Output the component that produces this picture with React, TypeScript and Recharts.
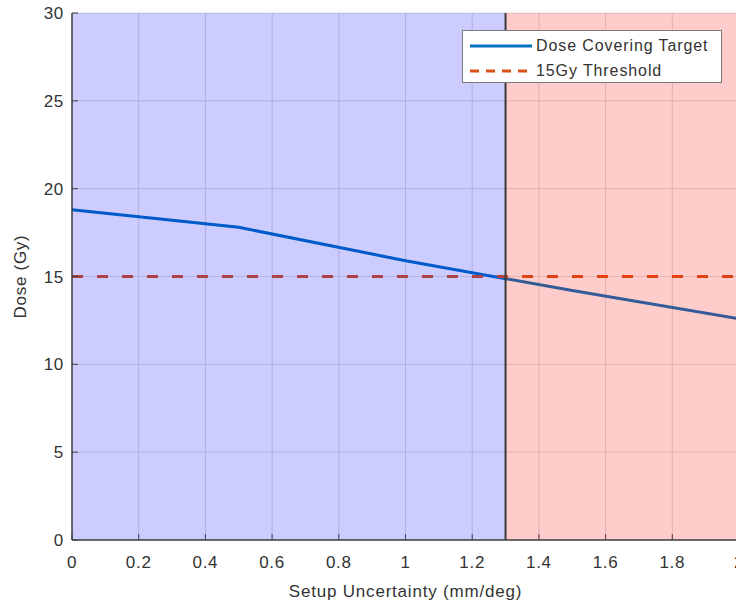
import {
  LineChart,
  Line,
  XAxis,
  YAxis,
  CartesianGrid,
  ReferenceArea,
  ReferenceLine,
} from 'recharts'

// values
const uncertainty = [0, 0.5, 1.0, 1.5, 2.0]
const doseCovering = [18.8, 17.8, 15.9, 14.2, 12.6]
const threshold = [15, 15, 15, 15, 15]
const crossing = 1.3

const xTicks = [0, 0.2, 0.4, 0.6, 0.8, 1, 1.2, 1.4, 1.6, 1.8, 2]
const yTicks = [0, 5, 10, 15, 20, 25, 30]

const legendItems = [
  { name: 'Dose Covering Target', color: '#0072BD', dash: undefined },
  { name: '15Gy Threshold', color: '#D95319', dash: '9 7' },
]

const FONT = '"Liberation Sans", Arial, Helvetica, sans-serif'
const TEXT = '#333333'
const AXIS = '#404040'

const data = uncertainty.map((x, i) => ({
  x,
  dose: doseCovering[i],
  threshold: threshold[i],
}))

function BottomTick({ x, y, payload }: any) {
  return (
    <g>
      <line x1={x} x2={x} y1={y} y2={y - 6} stroke={AXIS} strokeWidth={1} />
      <text
        x={x}
        y={y + 28}
        textAnchor="middle"
        fontFamily={FONT}
        fontSize={17}
        letterSpacing={0.7}
        fill={TEXT}
      >
        {String(payload.value)}
      </text>
    </g>
  )
}

function TopTick({ x, y }: any) {
  return <line x1={x} x2={x} y1={y} y2={y + 6} stroke={AXIS} strokeWidth={1} />
}

function LeftTick({ x, y, payload }: any) {
  return (
    <g>
      <line x1={x} x2={x + 6} y1={y} y2={y} stroke={AXIS} strokeWidth={1} />
      <text
        x={x - 8}
        y={y + 6}
        textAnchor="end"
        fontFamily={FONT}
        fontSize={17}
        letterSpacing={0.7}
        fill={TEXT}
      >
        {payload.value}
      </text>
    </g>
  )
}

function LegendBox() {
  return (
    <div
      style={{
        position: 'absolute',
        left: 462,
        top: 30,
        width: 260,
        height: 53,
        boxSizing: 'border-box',
        background: '#fff',
        border: '1px solid #7a7a7a',
        fontFamily: FONT,
        fontSize: 16,
        letterSpacing: 0.9,
        color: TEXT,
        padding: '3px 0 0 6px',
      }}
    >
      {legendItems.map((item) => (
        <div
          key={item.name}
          style={{ display: 'flex', alignItems: 'center', height: 23, marginBottom: 2 }}
        >
          <svg width={64} height={10} style={{ marginRight: 3 }}>
            <line
              x1={1}
              x2={63}
              y1={5}
              y2={5}
              stroke={item.color}
              strokeWidth={3}
              strokeDasharray={item.dash}
            />
          </svg>
          <span>{item.name}</span>
        </div>
      ))}
    </div>
  )
}

export default function App() {
  return (
    <div
      style={{
        position: 'fixed',
        left: 0,
        top: 0,
        width: 736,
        height: 606,
        overflow: 'hidden',
        background: '#fff',
      }}
    >
      <LineChart
        width={760}
        height={606}
        data={data}
        margin={{ top: 13, right: 21, bottom: 0, left: 0 }}
      >
        <CartesianGrid stroke="#dcdcdc" strokeWidth={1} />
        <XAxis
          dataKey="x"
          type="number"
          domain={[0, 2]}
          ticks={xTicks}
          allowDataOverflow
          height={66}
          tickSize={0}
          tickMargin={0}
          tickLine={false}
          tick={<BottomTick />}
          axisLine={{ stroke: AXIS, strokeWidth: 1.5 }}
          label={{
            value: 'Setup Uncertainty (mm/deg)',
            position: 'insideBottom',
            offset: 9,
            fontFamily: FONT,
            fontSize: 17,
            letterSpacing: 0.8,
            fill: TEXT,
          }}
          zIndex={600}
        />
        <XAxis
          xAxisId="top"
          orientation="top"
          dataKey="x"
          type="number"
          domain={[0, 2]}
          ticks={xTicks}
          height={0}
          tickSize={0}
          tickMargin={0}
          tickLine={false}
          tick={<TopTick />}
          axisLine={{ stroke: AXIS, strokeWidth: 1.5 }}
          zIndex={600}
        />
        <YAxis
          type="number"
          domain={[0, 30]}
          ticks={yTicks}
          width={72}
          tickSize={0}
          tickMargin={0}
          tickLine={false}
          tick={<LeftTick />}
          axisLine={{ stroke: AXIS, strokeWidth: 1.5 }}
          label={{
            value: 'Dose (Gy)',
            angle: -90,
            position: 'insideLeft',
            offset: 20,
            style: { textAnchor: 'middle' },
            fontFamily: FONT,
            fontSize: 17,
            letterSpacing: 0.7,
            fill: TEXT,
          }}
          zIndex={600}
        />
        <Line
          type="linear"
          dataKey="dose"
          stroke="#0072BD"
          strokeWidth={3}
          dot={false}
          activeDot={false}
          isAnimationActive={false}
          zIndex={400}
        />
        <Line
          type="linear"
          dataKey="threshold"
          stroke="#D95319"
          strokeWidth={3}
          strokeDasharray="11 14"
          dot={false}
          activeDot={false}
          isAnimationActive={false}
          zIndex={400}
        />
        <ReferenceArea
          x1={0}
          x2={crossing}
          y1={0}
          y2={30}
          fill="#0000ff"
          fillOpacity={0.2}
          stroke="none"
          zIndex={500}
        />
        <ReferenceArea
          x1={crossing}
          x2={2}
          y1={0}
          y2={30}
          fill="#ff0000"
          fillOpacity={0.2}
          stroke="none"
          zIndex={500}
        />
        <ReferenceLine x={crossing} stroke="#3a3a3a" strokeWidth={2} zIndex={550} />
      </LineChart>
      <LegendBox />
    </div>
  )
}
